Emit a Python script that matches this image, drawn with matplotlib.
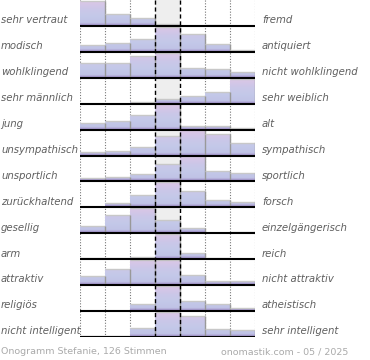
import numpy as np
import matplotlib
matplotlib.use('Agg')
import matplotlib.pyplot as plt
from matplotlib.path import Path
from matplotlib.patches import PathPatch, Rectangle
from matplotlib.colors import LinearSegmentedColormap
import matplotlib.transforms as mtransforms

# --- Data: relative vote share per column (row max = 1) ---
left_labels = ['sehr vertraut', 'modisch', 'wohlklingend', 'sehr männlich', 'jung',
               'unsympathisch', 'unsportlich', 'zurückhaltend', 'gesellig', 'arm',
               'attraktiv', 'religiös', 'nicht intelligent']
right_labels = ['fremd', 'antiquiert', 'nicht wohlklingend', 'sehr weiblich', 'alt',
                'sympathisch', 'sportlich', 'forsch', 'einzelgängerisch', 'reich',
                'nicht attraktiv', 'atheistisch', 'sehr intelligent']
values = [
    [1.00, 0.49, 0.33, 0.09, 0.00, 0.05, 0.00],
    [0.27, 0.37, 0.51, 1.00, 0.71, 0.33, 0.09],
    [0.59, 0.59, 0.87, 1.00, 0.37, 0.33, 0.23],
    [0.00, 0.00, 0.05, 0.19, 0.32, 0.48, 1.00],
    [0.25, 0.35, 0.59, 1.00, 0.15, 0.15, 0.05],
    [0.16, 0.17, 0.33, 0.79, 1.00, 0.85, 0.49],
    [0.13, 0.19, 0.31, 0.71, 1.00, 0.40, 0.33],
    [0.00, 0.19, 0.51, 1.00, 0.67, 0.28, 0.23],
    [0.30, 0.73, 1.00, 0.54, 0.20, 0.00, 0.05],
    [0.03, 0.03, 0.10, 1.00, 0.25, 0.06, 0.00],
    [0.37, 0.64, 1.00, 1.00, 0.41, 0.17, 0.17],
    [0.00, 0.00, 0.28, 1.00, 0.41, 0.29, 0.13],
    [0.05, 0.05, 0.37, 1.00, 0.82, 0.32, 0.28],
]
footer_left = 'Onogramm Stefanie, 126 Stimmen'
footer_right = 'onomastik.com - 05 / 2025'

n_rows = len(values)
n_cols = len(values[0])

fig = plt.figure(figsize=(3.7, 3.6), dpi=100)
ax = fig.add_axes([80 / 370, 1 - 337 / 360, 175 / 370, 337 / 360])
ax.set_xlim(0, n_cols)
ax.set_ylim(n_rows, 0)
ax.axis('off')

# middle column background
ax.add_patch(Rectangle((3, 0), 1, n_rows, facecolor='#eeeeee', edgecolor='none', zorder=0))

# grid lines
for x in [0, 1, 2, 5, 6, 7]:
    ax.plot([x, x], [0, n_rows], color='#777777', lw=0.8, ls=(0, (1, 1.5)), zorder=1)

grad_cmap = LinearSegmentedColormap.from_list('bar', [
    (0.0, '#ddc6e6'), (0.35, '#cbc7e8'), (0.6, '#c4c9e9'),
    (0.88, '#c0c3e6'), (0.94, '#ab9fd0'), (1.0, '#9384c2')])
grad = np.linspace(0, 1, 128).reshape(-1, 1)

for i, row in enumerate(values):
    base = i + 1
    verts, codes = [], []
    for j, h in enumerate(row):
        if h <= 0:
            continue
        top = base - h * 0.97
        verts += [(j, base), (j + 1, base), (j + 1, top), (j, top), (j, base)]
        codes += [Path.MOVETO, Path.LINETO, Path.LINETO, Path.LINETO, Path.CLOSEPOLY]
    if verts:
        clip = PathPatch(Path(verts, codes), facecolor='none', edgecolor='none',
                         transform=ax.transData)
        ax.add_patch(clip)
        im = ax.imshow(grad, cmap=grad_cmap, extent=(0, n_cols, base, i),
                       aspect='auto', zorder=2, interpolation='bilinear')
        im.set_clip_path(clip)
    for j, h in enumerate(row):
        if h <= 0:
            continue
        top = base - h * 0.97
        ax.plot([j, j + 1], [top, top], color='#c8c8c8', lw=1, zorder=3,
                solid_capstyle='butt')
        ax.plot([j + 1, j + 1], [top, base], color='#999999', lw=1, zorder=3,
                solid_capstyle='butt')
    ax.plot([0, n_cols], [base, base], color='black', lw=1.5, zorder=4,
            solid_capstyle='butt')

# dashed lines around middle column
for x in [3, 4]:
    ax.plot([x, x], [0, n_rows], color='black', lw=1, ls=(0, (3, 2)), zorder=5)

trans = mtransforms.blended_transform_factory(fig.transFigure, ax.transData)
for i in range(n_rows):
    ax.text(1 / 370, i + 0.78, left_labels[i], transform=trans, ha='left', va='center',
            fontsize=7.3, style='italic', color='#5f5f5f')
    ax.text(262 / 370, i + 0.78, right_labels[i], transform=trans, ha='left', va='center',
            fontsize=7.3, style='italic', color='#5f5f5f')

fig.text(1 / 370, 1 - 352 / 360, footer_left, ha='left', va='center',
         fontsize=6.8, color='#aaaaaa')
fig.text(348 / 370, 1 - 352 / 360, footer_right, ha='right', va='center',
         fontsize=6.8, color='#aaaaaa')

fig.savefig('out.png', dpi=100)
